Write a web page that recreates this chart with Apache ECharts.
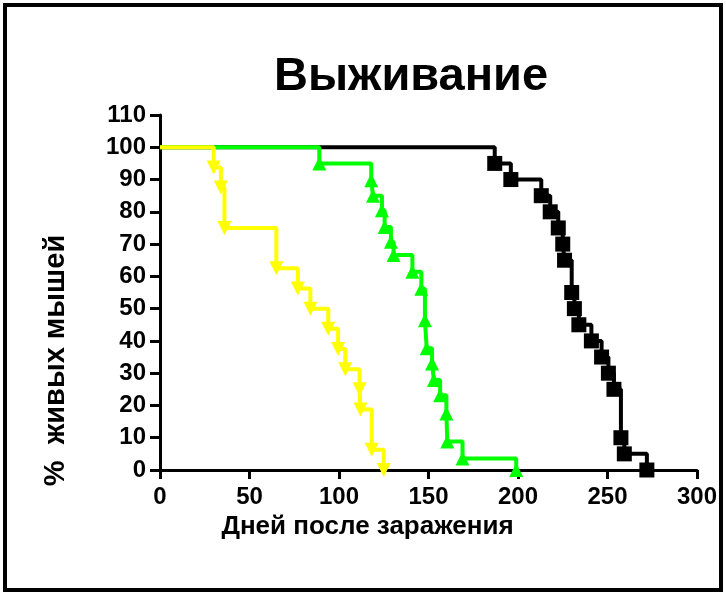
<!DOCTYPE html>
<html>
<head>
<meta charset="utf-8">
<script src="https://cdn.jsdelivr.net/npm/echarts@6/dist/echarts.min.js"></script>
<style>
html,body{margin:0;padding:0;background:#fff;}
#chart{position:absolute;left:0;top:0;width:726px;height:595px;}
#frame{position:absolute;left:3px;top:3px;width:712px;height:581px;border:4px solid #000;pointer-events:none;}
</style>
</head>
<body>
<div id="chart"></div>
<div id="frame"></div>
<script>
// Kaplan–Meier events: day of step and survival (%) after it
const yellowDays   = [30, 34, 36, 65, 77, 84, 94, 99.5, 103.5, 111.5, 112, 118.3, 125];
const yellowSurv   = [93.75, 87.5, 75, 62.5, 56.25, 50, 43.75, 37.5, 31.25, 25, 18.75, 6.25, 0];

const greenDays    = [89, 118, 119, 124, 125.5, 129, 130.5, 141, 146, 148, 149, 152, 153, 156.5, 160, 160.5, 169, 199];
const greenSurv    = [95, 89.8, 85, 80.5, 75.3, 70.7, 66.6, 61.4, 56.2, 46.4, 37.7, 33, 27.9, 23.2, 17.5, 8.8, 3.6, 0];

const blackDays    = [187, 196, 213, 218, 222.5, 225, 226, 230, 231.5, 234, 241, 246.7, 250.5, 253.6, 257.5, 259.4, 272];
const blackSurv    = [95, 90, 85, 80, 75, 70, 65, 55, 50, 45, 40, 35, 30, 25, 10, 5, 0];

const xTicks = [0, 50, 100, 150, 200, 250, 300];
const yTicks = [0, 10, 20, 30, 40, 50, 60, 70, 80, 90, 100, 110];

const titleText = 'Выживание';
const xTitle = 'Дней после заражения';
const yTitle = '%  живых мышей';

function build(days, surv){
  const d = [{value:[0,100], symbol:'none'}];
  for (let i = 0; i < days.length; i++) d.push([days[i], surv[i]]);
  return d;
}

const FONT = 'Arial, "Liberation Sans", sans-serif';
const chart = echarts.init(document.getElementById('chart'), null, {renderer:'canvas'});

function series(name, days, surv, color, symbol, rot, size){
  return {
    name, type:'line', step:'end', data: build(days, surv),
    lineStyle:{color, width:4}, itemStyle:{color},
    symbol, symbolSize:size, symbolRotate:rot, showSymbol:true,
    animation:false, clip:false, z: 2
  };
}

chart.setOption({
  backgroundColor:'#fff',
  animation:false,
  title:{
    text:titleText, left:269, top:49,
    textStyle:{fontFamily:FONT, fontWeight:'bold', fontSize:47, color:'#000'}
  },
  grid:{left:160, right:29, top:115, bottom:125, containLabel:false},
  xAxis:{
    type:'value', min:0, max:300, interval:50,
    axisLine:{show:true, onZero:false, lineStyle:{color:'#000', width:3}},
    axisTick:{show:true, length:9, lineStyle:{color:'#000', width:3}},
    axisLabel:{margin:15, fontFamily:FONT, fontWeight:'bold', fontSize:24, color:'#000',
      formatter:v => xTicks.includes(v) ? String(v) : ''},
    splitLine:{show:false},
    name:xTitle, nameLocation:'middle', nameGap:34,
    nameTextStyle:{fontFamily:FONT, fontWeight:'bold', fontSize:26, color:'#000', padding:[0,122,0,0]}
  },
  yAxis:{
    type:'value', min:0, max:110, interval:10,
    axisLine:{show:true, onZero:false, lineStyle:{color:'#000', width:3}},
    axisTick:{show:true, length:10, lineStyle:{color:'#000', width:3}},
    axisLabel:{margin:14, fontFamily:FONT, fontWeight:'bold', fontSize:24, color:'#000',
      formatter:v => yTicks.includes(v) ? String(v) : ''},
    splitLine:{show:false},
    name:yTitle, nameLocation:'middle', nameGap:90, nameRotate:90,
    nameTextStyle:{fontFamily:FONT, fontWeight:'bold', fontSize:29, color:'#000', padding:[0,136,0,0]}
  },
  series:[
    series('black', blackDays, blackSurv, '#000000', 'rect', 0, 15),
    series('green', greenDays, greenSurv, '#00ff00', 'triangle', 0, 14),
    series('yellow', yellowDays, yellowSurv, '#ffff00', 'triangle', 180, 14)
  ]
});
</script>
</body>
</html>
